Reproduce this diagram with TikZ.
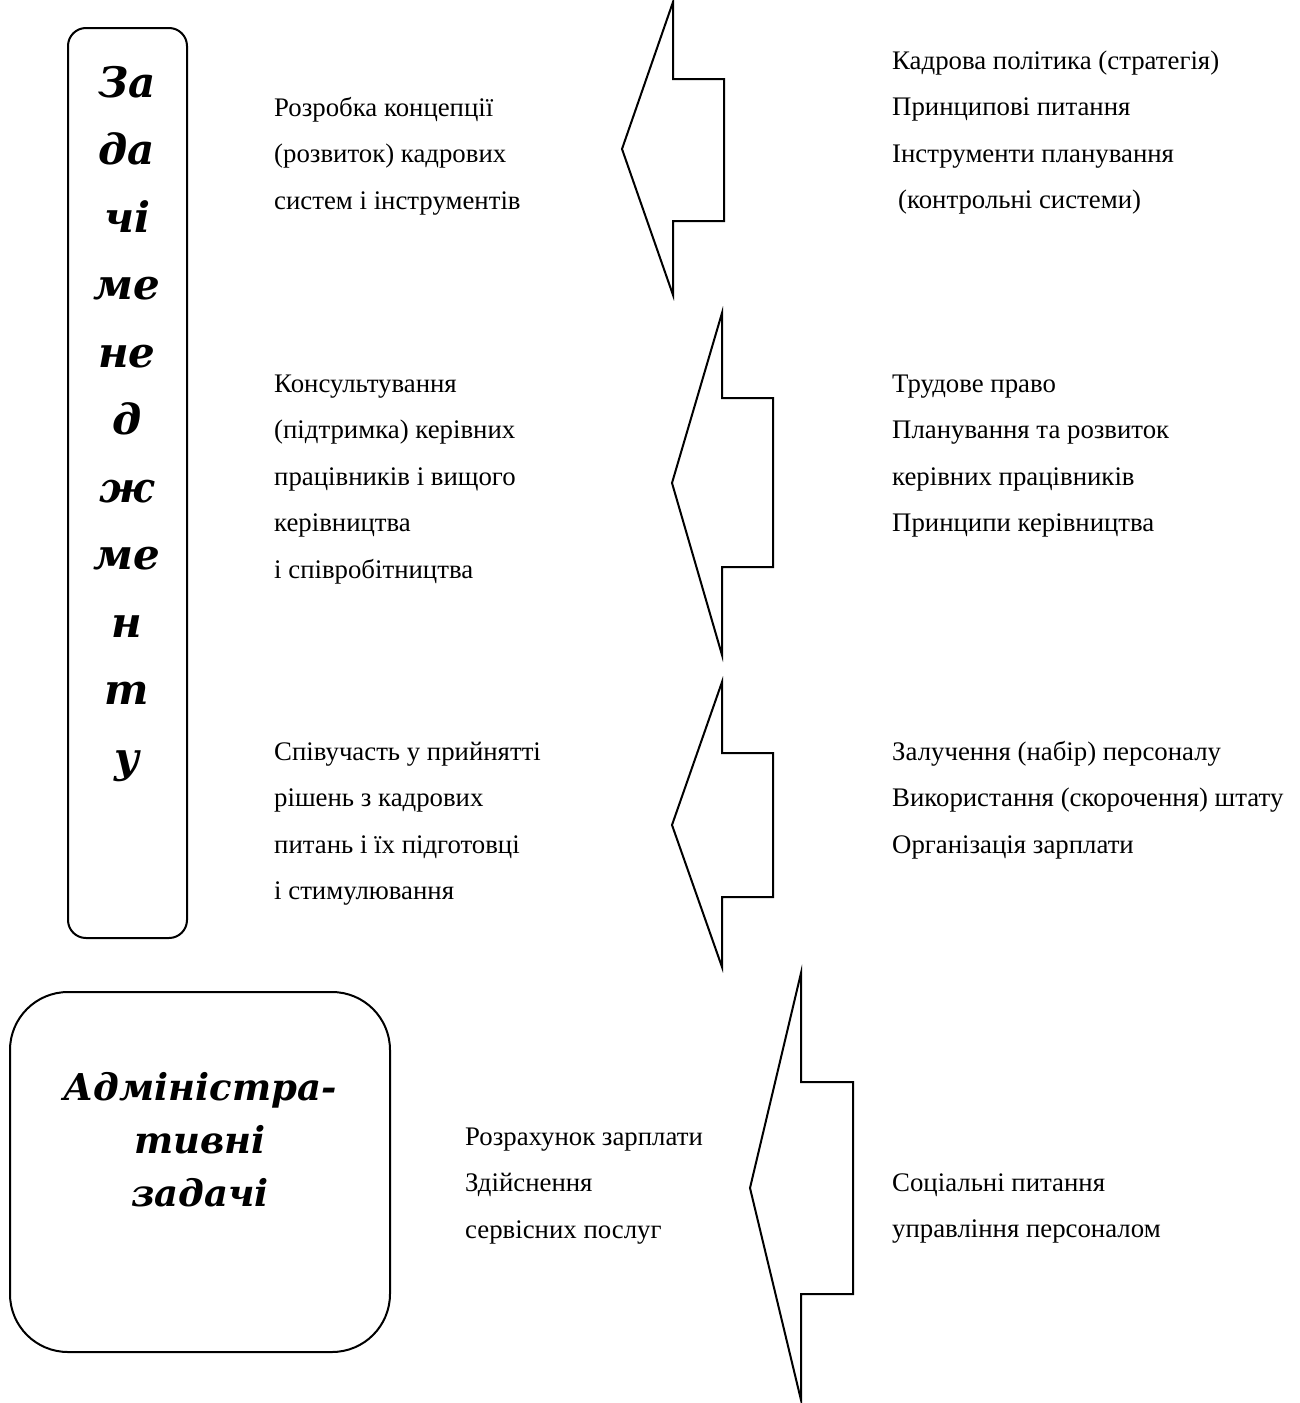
\documentclass[tikz,border=0pt]{standalone}
\usepackage{fontspec}
\setmainfont{Liberation Serif}
\newfontfamily\titlefont{DejaVu Serif}
\newcommand\firstrule[1]{\rule{0pt}{#1pt}}
\begin{document}
\begin{tikzpicture}[x=1pt,y=-1pt,
  outline/.style={draw=black,line width=2pt,line join=miter},
  bodytext/.style={anchor=north west,inner sep=0pt,align=left,
    font=\fontsize{26.8}{46.5}\selectfont},
  titletext/.style={anchor=north,inner sep=0pt,align=center},
]
\useasboundingbox (0,0) rectangle (1300,1403);

% boxes
\draw[outline,rounded corners=18pt] (68,28) rectangle (187,938);
\draw[outline,rounded corners=58pt] (10,992) rectangle (390,1352);

% arrows
\draw[outline] (673,2) -- (673,79) -- (724,79) -- (724,221) -- (673,221) -- (673,295) -- (622,149) -- cycle;
\draw[outline] (722,313) -- (722,398) -- (773,398) -- (773,567) -- (722,567) -- (722,655) -- (672,483) -- cycle;
\draw[outline] (722,682) -- (722,753) -- (773,753) -- (773,897) -- (722,897) -- (722,967) -- (672,825) -- cycle;
\draw[outline] (801,973) -- (801,1082) -- (853,1082) -- (853,1294) -- (801,1294) -- (801,1400) -- (750,1188) -- cycle;

% title texts
\node[titletext,font=\titlefont\fontsize{42}{67.5}\selectfont\bfseries\itshape] (mgmt) at (127,37)
  {\firstrule{60}За\\да\\чі\\ме\\не\\д\\ж\\ме\\н\\т\\у};
\node[titletext,font=\titlefont\fontsize{37}{53}\selectfont\bfseries\itshape] (admin) at (200,1035)
  {\firstrule{65}Адміністра-\\тивні\\задачі};

% group 1
\node[bodytext] (l1) at (274,86) {\firstrule{30}Розробка концепції\\(розвиток) кадрових\\систем і інструментів};
\node[bodytext] (r1) at (892,39) {\firstrule{30}Кадрова політика (стратегія)\\Принципові питання\\Інструменти планування\\\hspace*{6pt}(контрольні системи)};

% group 2
\node[bodytext] (l2) at (274,362) {\firstrule{30}Консультування\\(підтримка) керівних\\працівників і вищого\\керівництва\\і співробітництва};
\node[bodytext] (r2) at (892,362) {\firstrule{30}Трудове право\\Планування та розвиток\\керівних працівників\\Принципи керівництва};

% group 3
\node[bodytext] (l3) at (274,730) {\firstrule{30}Співучасть у прийнятті\\рішень з кадрових\\питань і їх підготовці\\і стимулювання};
\node[bodytext] (r3) at (892,730) {\firstrule{30}Залучення (набір) персоналу\\Використання (скорочення) штату\\Організація зарплати};

% group 4
\node[bodytext] (l4) at (465,1115) {\firstrule{30}Розрахунок зарплати\\Здійснення\\сервісних послуг};
\node[bodytext] (r4) at (892,1161) {\firstrule{30}Соціальні питання\\управління персоналом};
\end{tikzpicture}
\end{document}
